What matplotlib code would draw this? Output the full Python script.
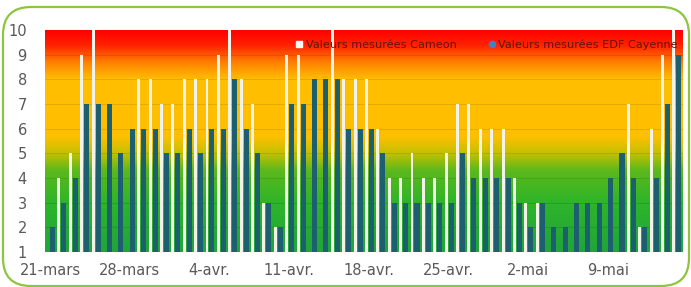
import numpy as np
import matplotlib
matplotlib.use("Agg")
import matplotlib.pyplot as plt
from matplotlib.colors import LinearSegmentedColormap
from matplotlib.patches import FancyBboxPatch
from matplotlib.lines import Line2D
from matplotlib.transforms import IdentityTransform

nan = np.nan

# daily values, 21-mars to 15-mai
cameon = [nan, 4, 5, 9, 10, nan, nan, nan, 8, 8,
          7, 7, 8, 8, 8, 9, 10, 8, 7, 3,
          2, 9, 9, nan, nan, 10, 8, 8, 8, 6,
          4, 4, 5, 4, 4, 5, 7, 7, 6, 6,
          6, 4, 3, 3, nan, nan, nan, nan, nan, nan,
          nan, 7, 2, 6, 9, 10]
edf = [2, 3, 4, 7, 7, 7, 5, 6, 6, 6,
       5, 5, 6, 5, 6, 6, 8, 6, 5, 3,
       2, 7, 7, 8, 8, 8, 6, 6, 6, 5,
       3, 3, 3, 3, 3, 3, 5, 4, 4, 4,
       4, 3, 2, 3, 2, 2, 3, 3, 3, 4,
       5, 4, 2, 4, 7, 9]
tick_days = [0, 7, 14, 21, 28, 35, 42, 49]
tick_labels = ["21-mars", "28-mars", "4-avr.", "11-avr.", "18-avr.",
               "25-avr.", "2-mai", "9-mai"]
legend_labels = ["Valeurs mesurées Cameon", "Valeurs mesurées EDF Cayenne"]

x = np.arange(len(edf))

fig = plt.figure(figsize=(6.91, 2.87), dpi=100)
ax = fig.add_axes([0.065, 0.122, 0.923, 0.773])

# background gradient green -> yellow -> red
cmap = LinearSegmentedColormap.from_list("bg", [
    (0.0, "#21a43a"), (0.22, "#2db52a"), (0.367, "#5cb81c"),
    (0.444, "#c4c000"), (0.522, "#ffc000"), (0.778, "#ffbf00"),
    (0.856, "#ff8000"), (0.933, "#ff2200"), (1.0, "#ff0000")])
grad = np.linspace(0, 1, 256).reshape(-1, 1)
ax.imshow(grad, cmap=cmap, origin="lower", aspect="auto",
          extent=(-0.45, 55.55, 1, 10), zorder=0)
for y in range(2, 10):
    ax.axhline(y, color="#000000", alpha=0.1, lw=0.8, zorder=1)

ax.bar(x - 0.22, np.array(cameon) - 1, bottom=1, width=0.26,
       color="#f3f3ea", zorder=2)
ax.bar(x + 0.22, np.array(edf) - 1, bottom=1, width=0.44,
       color="#1c6070", zorder=2)

ax.set_xlim(-0.45, 55.55)
ax.set_ylim(1, 10)
ax.set_yticks(range(1, 11))
ax.set_xticks(tick_days)
ax.set_xticklabels(tick_labels)
ax.tick_params(length=0, labelsize=10.5, colors="#595959")
ax.tick_params(axis="y", pad=13)
ax.tick_params(axis="x", pad=8)
for s in ax.spines.values():
    s.set_visible(False)

handles = [Line2D([], [], marker="s", ls="", color="#fbfbf0", markersize=4),
           Line2D([], [], marker="o", ls="", color="#4a7ebb", markersize=4.5)]
ax.legend(handles, legend_labels, loc="upper left", ncol=2, frameon=False,
          fontsize=8.1, labelcolor="#6a1005", handletextpad=0.1,
          handlelength=1.0, columnspacing=2.6,
          bbox_to_anchor=(0.39, 0.96), borderaxespad=0, borderpad=0)

border = FancyBboxPatch((3, 1), 686, 279,
                        boxstyle="round,pad=0,rounding_size=28",
                        transform=IdentityTransform(), fill=False,
                        edgecolor="#8cc63f", lw=1.6)
fig.add_artist(border)

fig.savefig("out.png", dpi=100)
